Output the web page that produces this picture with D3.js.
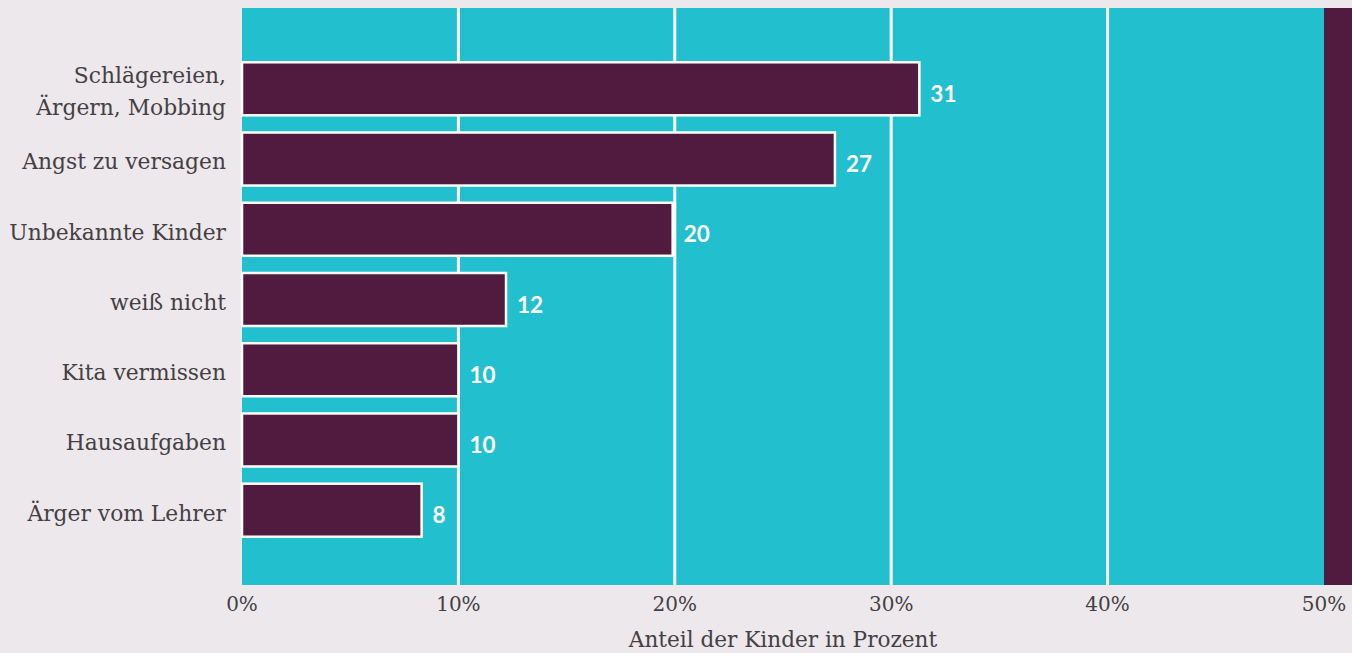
<!DOCTYPE html>
<html>
<head>
<meta charset="utf-8">
<script src="https://cdn.jsdelivr.net/npm/d3@7"></script>
<style>
  body { margin: 0; background: #ede8ec; }
  svg { display: block; }
</style>
</head>
<body>
<svg id="chart" width="1352" height="653"></svg>
<script>
// categories top to bottom, values in percent
var categories = ["Schlägereien,\nÄrgern, Mobbing", "Angst zu versagen", "Unbekannte Kinder",
  "weiß nicht", "Kita vermissen", "Hausaufgaben", "Ärger vom Lehrer"];
var values = [31.3, 27.4, 19.9, 12.2, 10.0, 10.0, 8.3];
var ticks = [0, 10, 20, 30, 40, 50];

var W = 1352, H = 653;
var margin = {top: 8, right: 28, bottom: 68, left: 242};
var textColor = "#444043";

var svg = d3.select("#chart");

var x = d3.scaleLinear().domain([0, 50]).range([margin.left, W - margin.right]);
var y = d3.scaleBand().domain(categories)
  .range([margin.top + 3, H - margin.bottom + 3])
  .paddingInner(0.245).paddingOuter(0.73);

// plot background
svg.append("rect")
  .attr("x", x(0)).attr("y", margin.top)
  .attr("width", x(50) - x(0)).attr("height", H - margin.bottom - margin.top)
  .attr("fill", "#22bfcf");

// strip beyond 50%
svg.append("rect")
  .attr("x", x(50)).attr("y", margin.top)
  .attr("width", W - x(50)).attr("height", H - margin.bottom - margin.top)
  .attr("fill", "#501b3e");

// grid
svg.selectAll(".grid").data(ticks.slice(1, -1))
  .enter().append("line")
  .attr("x1", function(d) { return x(d); })
  .attr("x2", function(d) { return x(d); })
  .attr("y1", margin.top).attr("y2", H - margin.bottom)
  .attr("stroke", "#fff").attr("stroke-width", 3);

// bars
svg.selectAll(".bar").data(values)
  .enter().append("rect")
  .attr("x", x(0))
  .attr("y", function(d, i) { return y(categories[i]); })
  .attr("width", function(d) { return x(d) - x(0); })
  .attr("height", y.bandwidth())
  .attr("fill", "#501b3e")
  .attr("stroke", "#fff").attr("stroke-width", 2.5);

// value labels
svg.selectAll(".val").data(values)
  .enter().append("text")
  .attr("x", function(d) { return x(d) + 11; })
  .attr("y", function(d, i) { return y(categories[i]) + y.bandwidth() / 2; })
  .attr("dy", "0.58em")
  .attr("fill", "#fff")
  .style("font-family", "Lato, sans-serif")
  .style("font-weight", "bold")
  .style("font-size", "22.5px")
  .text(function(d) { return Math.round(d); });

// category labels
var lab = svg.selectAll(".cat").data(categories)
  .enter().append("text")
  .attr("text-anchor", "end")
  .attr("fill", textColor)
  .style("font-family", "'DejaVu Serif', serif")
  .style("font-size", "21.8px")
  .attr("transform", function(d) {
    return "translate(226," + (y(d) + y.bandwidth() / 2) + ")";
  });

lab.each(function(d) {
  var lines = d.split("\n");
  var t = d3.select(this);
  lines.forEach(function(l, j) {
    t.append("tspan").attr("x", 0)
      .attr("y", (j - (lines.length - 1) / 2) * 32)
      .attr("dy", "0.48em")
      .text(l);
  });
});

// x axis tick labels
svg.selectAll(".tick").data(ticks)
  .enter().append("text")
  .attr("x", function(d) { return x(d); })
  .attr("y", 611)
  .attr("text-anchor", "middle")
  .attr("fill", textColor)
  .style("font-family", "'DejaVu Serif', serif")
  .style("font-size", "20px")
  .text(function(d) { return d + "%"; });

svg.append("text")
  .attr("x", (x(0) + x(50)) / 2).attr("y", 647)
  .attr("text-anchor", "middle")
  .attr("fill", textColor)
  .style("font-family", "'DejaVu Serif', serif")
  .style("font-size", "21.6px")
  .text("Anteil der Kinder in Prozent");
</script>
</body>
</html>
